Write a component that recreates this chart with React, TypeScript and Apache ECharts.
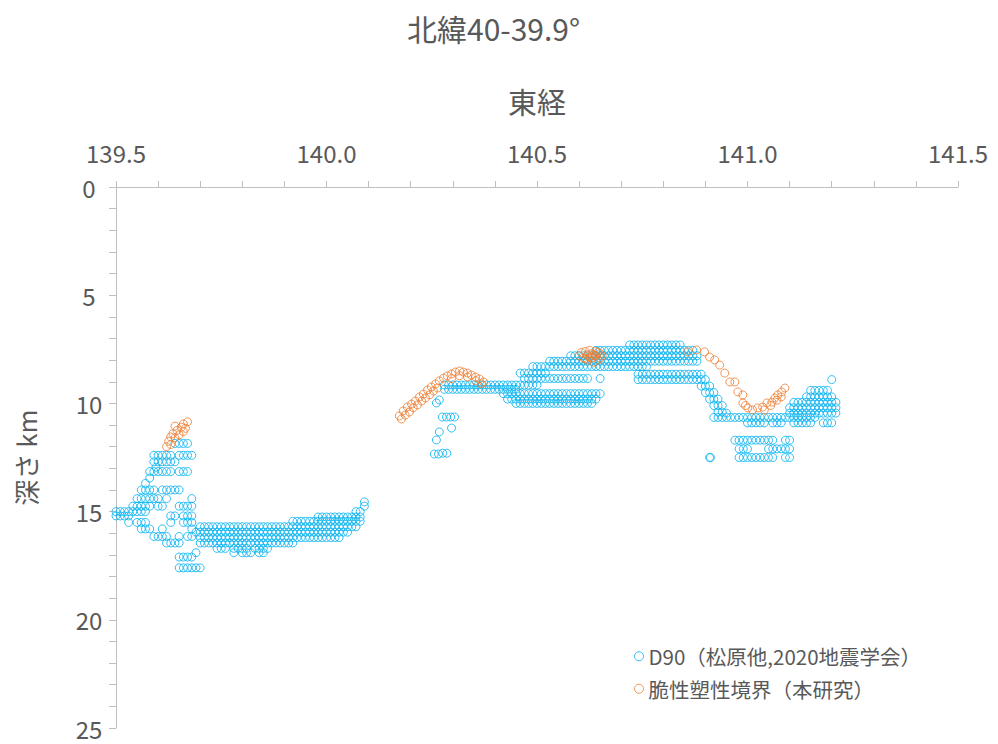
import React, { useEffect, useRef } from 'react';
import * as echarts from 'echarts';

const chartTitle = '北緯40-39.9°';
const xAxisName = '東経';
const yAxisName = '深さ km';
const seriesNames = ['D90（松原他,2020地震学会）', '脆性塑性境界（本研究）'];
const seriesColors = ['#00b0f0', '#ed7d31'];
const xTicks = [139.5, 140.0, 140.5, 141.0, 141.5];
const yTicks = [0, 5, 10, 15, 20, 25];

// D90 rows: [depth km, longitudes]
const d90West: [number, number[]][] = [
  [11.85, [139.64, 139.65, 139.66, 139.67]],
  [12.4, [139.59, 139.6, 139.61, 139.62, 139.63, 139.65, 139.66, 139.67, 139.68]],
  [12.7, [139.59, 139.6, 139.61, 139.62, 139.63, 139.64]],
  [12.95, [139.595]],
  [13.15, [139.58, 139.59, 139.6, 139.61, 139.62, 139.63, 139.65, 139.66, 139.67]],
  [13.45, [139.58]],
  [13.7, [139.57]],
  [14.0, [139.56, 139.57, 139.58, 139.59, 139.61, 139.62, 139.63, 139.64, 139.65]],
  [14.4, [139.55, 139.56, 139.57, 139.58, 139.59, 139.6, 139.62, 139.68]],
  [14.75, [139.54, 139.55, 139.56, 139.57, 139.58, 139.6, 139.61, 139.65, 139.66, 139.67, 139.68]],
  [15.0, [139.49, 139.5, 139.51, 139.52, 139.53, 139.54, 139.55, 139.56, 139.57]],
  [15.2, [139.49, 139.5, 139.51, 139.52, 139.53, 139.63, 139.64, 139.66, 139.67, 139.68]],
  [15.5, [139.53, 139.55, 139.56, 139.57, 139.63, 139.66, 139.67, 139.68]],
  [15.8, [139.56, 139.57, 139.58, 139.61, 139.68]],
  [16.15, [139.59, 139.6, 139.61, 139.62, 139.65, 139.67, 139.68]],
  [16.45, [139.62, 139.63, 139.64, 139.65]],
  [16.9, [139.69]],
  [17.1, [139.65, 139.66, 139.67, 139.68]],
  [17.6, [139.65, 139.66, 139.67, 139.68, 139.69, 139.7]],
];

const d90Band: [number, number[]][] = [
  [14.55, [140.09]],
  [14.75, [140.09]],
  [15.0, [140.07, 140.08]],
  [15.25, [139.98, 139.99, 140.0, 140.01, 140.02, 140.03, 140.04, 140.05, 140.06, 140.07, 140.08]],
  [15.45, [139.92, 139.93, 139.94, 139.95, 139.96, 139.97, 139.98, 139.99, 140.0, 140.01, 140.02, 140.03, 140.04, 140.05, 140.06, 140.07, 140.08]],
  [15.7, [139.7, 139.71, 139.72, 139.73, 139.74, 139.75, 139.76, 139.77, 139.78, 139.79, 139.8, 139.81, 139.82, 139.83, 139.84, 139.85, 139.86, 139.87, 139.88, 139.89, 139.9, 139.91, 139.92, 139.93, 139.94, 139.95, 139.96, 139.97, 139.98, 139.99, 140.0, 140.01, 140.02, 140.03, 140.04, 140.05, 140.06, 140.07]],
  [15.95, [139.69, 139.7, 139.71, 139.72, 139.73, 139.74, 139.75, 139.76, 139.77, 139.78, 139.79, 139.8, 139.81, 139.82, 139.83, 139.84, 139.85, 139.86, 139.87, 139.88, 139.89, 139.9, 139.91, 139.92, 139.93, 139.94, 139.95, 139.96, 139.97, 139.98, 139.99, 140.0, 140.01, 140.02, 140.03, 140.04, 140.05]],
  [16.2, [139.7, 139.71, 139.72, 139.73, 139.74, 139.75, 139.76, 139.77, 139.78, 139.79, 139.8, 139.81, 139.82, 139.83, 139.84, 139.85, 139.86, 139.87, 139.88, 139.89, 139.9, 139.91, 139.92, 139.93, 139.94, 139.95, 139.96, 139.97, 139.98, 139.99, 140.0, 140.01, 140.02, 140.03]],
  [16.45, [139.7, 139.71, 139.72, 139.73, 139.74, 139.75, 139.76, 139.77, 139.78, 139.79, 139.8, 139.81, 139.82, 139.83, 139.84, 139.85, 139.86, 139.87, 139.88, 139.89, 139.9, 139.91, 139.92]],
  [16.7, [139.74, 139.75, 139.76, 139.78, 139.79, 139.8, 139.81, 139.83, 139.84, 139.85, 139.86]],
  [16.9, [139.78, 139.8, 139.81, 139.82, 139.84, 139.85]],
];

const d90Middle: [number, number[]][] = [
  [9.15, [140.28, 140.29, 140.3, 140.31, 140.32, 140.33, 140.34, 140.35, 140.36, 140.37, 140.38, 140.39, 140.4, 140.41, 140.42, 140.43, 140.44, 140.45, 140.46, 140.47, 140.48, 140.49, 140.5]],
  [9.35, [140.28, 140.29, 140.3, 140.31, 140.32, 140.33, 140.34, 140.35, 140.36, 140.37, 140.38, 140.39, 140.4, 140.41, 140.42, 140.43, 140.44, 140.45]],
  [9.55, [140.42, 140.43, 140.44, 140.45, 140.46, 140.47, 140.48, 140.49, 140.5, 140.51, 140.52, 140.53, 140.54, 140.55, 140.56, 140.57, 140.58, 140.59, 140.6, 140.61, 140.62, 140.63, 140.64, 140.65]],
  [9.8, [140.43, 140.44, 140.45, 140.46, 140.47, 140.48, 140.49, 140.5, 140.51, 140.52, 140.53, 140.54, 140.55, 140.56, 140.57, 140.58, 140.59, 140.6, 140.61, 140.62, 140.63, 140.64]],
  [10.0, [140.45, 140.46, 140.47, 140.48, 140.49, 140.5, 140.51, 140.52, 140.53, 140.54, 140.55, 140.56, 140.57, 140.58, 140.59, 140.6, 140.61, 140.62, 140.63]],
  [8.85, [140.47, 140.48, 140.49, 140.5, 140.51, 140.52, 140.53, 140.54, 140.55, 140.56, 140.57, 140.58, 140.59, 140.6, 140.61, 140.62, 140.65]],
  [8.6, [140.46, 140.47, 140.48, 140.49, 140.5, 140.51, 140.52]],
  [8.3, [140.49, 140.5, 140.51, 140.52, 140.53, 140.54, 140.55, 140.56, 140.57, 140.58, 140.59, 140.6, 140.61, 140.62, 140.63, 140.64, 140.65, 140.66, 140.67, 140.68, 140.69, 140.7, 140.71, 140.72, 140.73, 140.74, 140.75, 140.76]],
  [8.05, [140.53, 140.54, 140.55, 140.56, 140.57, 140.58, 140.59, 140.6, 140.61, 140.62, 140.63, 140.64, 140.65, 140.66, 140.67, 140.68, 140.69, 140.7, 140.71, 140.72, 140.73, 140.74, 140.75, 140.76, 140.77, 140.78, 140.79, 140.8, 140.81, 140.82, 140.83, 140.84, 140.85, 140.86, 140.87, 140.88]],
  [7.8, [140.58, 140.59, 140.6, 140.61, 140.62, 140.63, 140.64, 140.65, 140.66, 140.67, 140.68, 140.69, 140.7, 140.71, 140.72, 140.73, 140.74, 140.75, 140.76, 140.77, 140.78, 140.79, 140.8, 140.81, 140.82, 140.83, 140.84, 140.85, 140.86, 140.87, 140.88]],
  [7.55, [140.64, 140.65, 140.66, 140.67, 140.68, 140.69, 140.7, 140.71, 140.72, 140.73, 140.74, 140.75, 140.76, 140.77, 140.78, 140.79, 140.8, 140.81, 140.82, 140.83, 140.84, 140.85, 140.86, 140.87]],
  [7.3, [140.72, 140.73, 140.74, 140.75, 140.76, 140.77, 140.78, 140.79, 140.8, 140.81, 140.82, 140.83, 140.84]],
  [8.65, [140.74, 140.75, 140.76, 140.77, 140.78, 140.79, 140.8, 140.81, 140.82, 140.83, 140.84, 140.85, 140.86, 140.87, 140.88, 140.89]],
  [8.9, [140.74, 140.75, 140.76, 140.77, 140.78, 140.79, 140.8, 140.81, 140.82, 140.83, 140.84, 140.85, 140.86, 140.87, 140.88, 140.89, 140.9]],
  [9.2, [140.89, 140.9, 140.91]],
  [9.5, [140.9, 140.91, 140.92]],
  [9.8, [140.91, 140.92, 140.93]],
  [10.1, [140.92, 140.93, 140.94]],
  [10.4, [140.93, 140.94]],
];

const d90Scatter: [number, number][] = [
  [140.261, 9.98], [140.268, 9.84], [140.275, 10.63], [140.285, 10.63], [140.295, 10.63],
  [140.304, 10.63], [140.297, 11.14], [140.268, 11.32], [140.261, 11.69], [140.256, 12.34],
  [140.266, 12.34], [140.276, 12.3], [140.286, 12.3],
];

const d90East: [number, number[]][] = [
  [10.65, [140.92, 140.93, 140.94, 140.95, 140.96, 140.97, 140.98, 140.99, 141.0, 141.01, 141.02, 141.03, 141.04, 141.05, 141.06, 141.07, 141.08, 141.09, 141.1, 141.11, 141.12, 141.13, 141.14, 141.15, 141.16]],
  [10.45, [140.95, 141.1, 141.11, 141.12, 141.13, 141.14, 141.15, 141.16, 141.17, 141.18, 141.19, 141.2, 141.21]],
  [10.9, [141.0, 141.01, 141.02, 141.03, 141.04, 141.06, 141.07, 141.08, 141.11, 141.12, 141.13, 141.14, 141.15, 141.18, 141.19, 141.2]],
  [10.2, [141.1, 141.11, 141.12, 141.13, 141.14, 141.15, 141.16, 141.17, 141.18, 141.19, 141.2, 141.21]],
  [9.95, [141.11, 141.12, 141.13, 141.14, 141.15, 141.16, 141.17, 141.18, 141.19, 141.2, 141.21]],
  [9.7, [141.14, 141.15, 141.16, 141.17, 141.18, 141.19, 141.2]],
  [9.4, [141.15, 141.16, 141.17, 141.18, 141.19]],
  [8.9, [141.2]],
  [11.7, [140.97, 140.98, 140.99, 141.0, 141.01, 141.02, 141.03, 141.04, 141.05, 141.06, 141.09, 141.1]],
  [12.1, [140.98, 140.99, 141.0, 141.05, 141.06, 141.07, 141.08, 141.09, 141.1]],
  [12.5, [140.91, 140.912, 140.98, 140.99, 141.0, 141.01, 141.02, 141.03, 141.04, 141.05, 141.06, 141.09, 141.1]],
];

// Brittle-ductile boundary points: [longitude, depth km]
const boundaryWest: [number, number][] = [
  [139.62, 12.0], [139.625, 11.75], [139.63, 11.55], [139.635, 11.4], [139.64, 11.6],
  [139.645, 11.25], [139.65, 11.45], [139.655, 11.1], [139.66, 11.3], [139.66, 10.95],
  [139.665, 11.15], [139.67, 10.85], [139.63, 11.9], [139.64, 11.05],
];

const boundaryMiddle: [number, number][] = [
  [140.173, 10.58], [140.182, 10.35], [140.192, 10.17], [140.202, 10.03], [140.211, 9.89],
  [140.221, 9.7], [140.23, 9.57], [140.24, 9.38], [140.249, 9.24], [140.259, 9.1],
  [140.268, 8.96], [140.278, 8.83], [140.287, 8.73], [140.297, 8.64], [140.306, 8.55],
  [140.316, 8.5], [140.325, 8.55], [140.335, 8.6], [140.344, 8.69], [140.354, 8.78],
  [140.363, 8.87], [140.373, 9.01], [140.178, 10.72], [140.187, 10.54], [140.197, 10.4],
  [140.206, 10.2], [140.216, 10.07], [140.226, 9.89], [140.235, 9.75], [140.245, 9.6],
  [140.254, 9.43], [140.264, 9.29], [140.297, 8.85], [140.316, 8.72], [140.335, 8.78],
  [140.354, 8.95], [140.368, 9.1],
];

const boundaryCluster: [number, number][] = [
  [140.6, 7.8], [140.605, 7.65], [140.61, 7.9], [140.615, 7.6], [140.62, 7.75],
  [140.62, 8.0], [140.625, 7.55], [140.63, 7.7], [140.63, 7.9], [140.635, 8.1],
  [140.64, 7.6], [140.64, 7.8], [140.645, 8.0], [140.65, 7.7], [140.65, 7.9],
  [140.655, 7.8], [140.625, 7.85], [140.635, 7.75], [140.615, 7.95], [140.645, 7.65],
];

const boundaryEast: [number, number][] = [
  [140.858, 7.62], [140.879, 7.53], [140.898, 7.62], [140.91, 7.86], [140.922, 7.99],
  [140.934, 8.23], [140.946, 8.6], [140.958, 9.01], [140.97, 9.01], [140.977, 9.47],
  [140.989, 9.61], [140.989, 9.98], [141.001, 10.21], [141.012, 10.3], [141.024, 10.21],
  [141.036, 10.17], [141.046, 9.98], [141.058, 9.94], [141.065, 9.75], [141.072, 9.61],
  [141.081, 9.47], [141.089, 9.29], [141.04, 10.3], [141.055, 10.1], [141.07, 9.85],
  [141.08, 9.7], [140.995, 10.1],
];

const rowsToPoints = (rows: [number, number[]][]): [number, number][] =>
  rows.flatMap(([depth, lons]) => lons.map((lon) => [lon, depth] as [number, number]));

export default function App() {
  const ref = useRef<HTMLDivElement>(null);

  useEffect(() => {
    document.body.style.margin = '0';
    if (!ref.current) return;
    const chart = echarts.init(ref.current, undefined, { renderer: 'svg' });
    const font = '"Noto Sans CJK JP", "Noto Sans", sans-serif';
    const textColor = '#595959';
    const axisColor = '#bfbfbf';

    const d90Data: [number, number][] = [
      ...rowsToPoints(d90West),
      ...rowsToPoints(d90Band),
      ...rowsToPoints(d90Middle),
      ...d90Scatter,
      ...rowsToPoints(d90East),
    ];
    const boundaryData: [number, number][] = [
      ...boundaryWest,
      ...boundaryMiddle,
      ...boundaryCluster,
      ...boundaryEast,
    ];

    const marker = (color: string) => ({
      color: 'rgba(255,255,255,0)',
      borderColor: color,
      borderWidth: 1,
    });

    chart.setOption({
      animation: false,
      backgroundColor: '#ffffff',
      textStyle: { fontFamily: font },
      title: {
        text: chartTitle,
        left: 402,
        top: 8,
        textStyle: { fontSize: 30, fontWeight: 'normal', color: textColor, fontFamily: font },
      },
      grid: { left: 116, top: 187, width: 842, height: 541, containLabel: false },
      legend: {
        orient: 'vertical',
        left: 629,
        top: 641,
        itemGap: 12,
        itemWidth: 9,
        itemHeight: 9,
        textStyle: { fontSize: 20.5, color: textColor, fontFamily: font },
        data: seriesNames.map((name, i) => ({
          name,
          icon: 'circle',
          itemStyle: marker(seriesColors[i]),
        })),
      },
      xAxis: {
        type: 'value',
        position: 'top',
        min: xTicks[0],
        max: xTicks[xTicks.length - 1],
        interval: 0.5,
        name: xAxisName,
        nameLocation: 'middle',
        nameGap: 72,
        nameTextStyle: { fontSize: 29, color: textColor, fontFamily: font },
        axisLine: { show: true, lineStyle: { color: axisColor, width: 1 } },
        axisTick: { show: true, length: 6, lineStyle: { color: axisColor } },
        minorTick: { show: true, splitNumber: 5, length: 6, lineStyle: { color: axisColor } },
        splitLine: { show: false },
        axisLabel: {
          fontSize: 24,
          color: textColor,
          margin: 23,
          fontFamily: font,
          formatter: (v: number) => v.toFixed(1),
        },
      },
      yAxis: {
        type: 'value',
        inverse: true,
        min: yTicks[0],
        max: yTicks[yTicks.length - 1],
        interval: 5,
        name: yAxisName,
        nameLocation: 'middle',
        nameGap: 78,
        nameRotate: 90,
        nameTextStyle: { fontSize: 26, color: textColor, fontFamily: font },
        axisLine: { show: true, lineStyle: { color: axisColor, width: 1 } },
        axisTick: { show: true, length: 7, lineStyle: { color: axisColor } },
        minorTick: { show: true, splitNumber: 5, length: 7, lineStyle: { color: axisColor } },
        splitLine: { show: false },
        axisLabel: { fontSize: 24, color: textColor, margin: 27, align: 'center', fontFamily: font },
      },
      series: [
        {
          name: seriesNames[0],
          type: 'scatter',
          symbol: 'circle',
          symbolSize: 8,
          itemStyle: marker(seriesColors[0]),
          data: d90Data,
        },
        {
          name: seriesNames[1],
          type: 'scatter',
          symbol: 'circle',
          symbolSize: 8,
          itemStyle: marker(seriesColors[1]),
          data: boundaryData,
        },
      ],
    });

    return () => chart.dispose();
  }, []);

  return <div ref={ref} style={{ width: 998, height: 744 }} />;
}
